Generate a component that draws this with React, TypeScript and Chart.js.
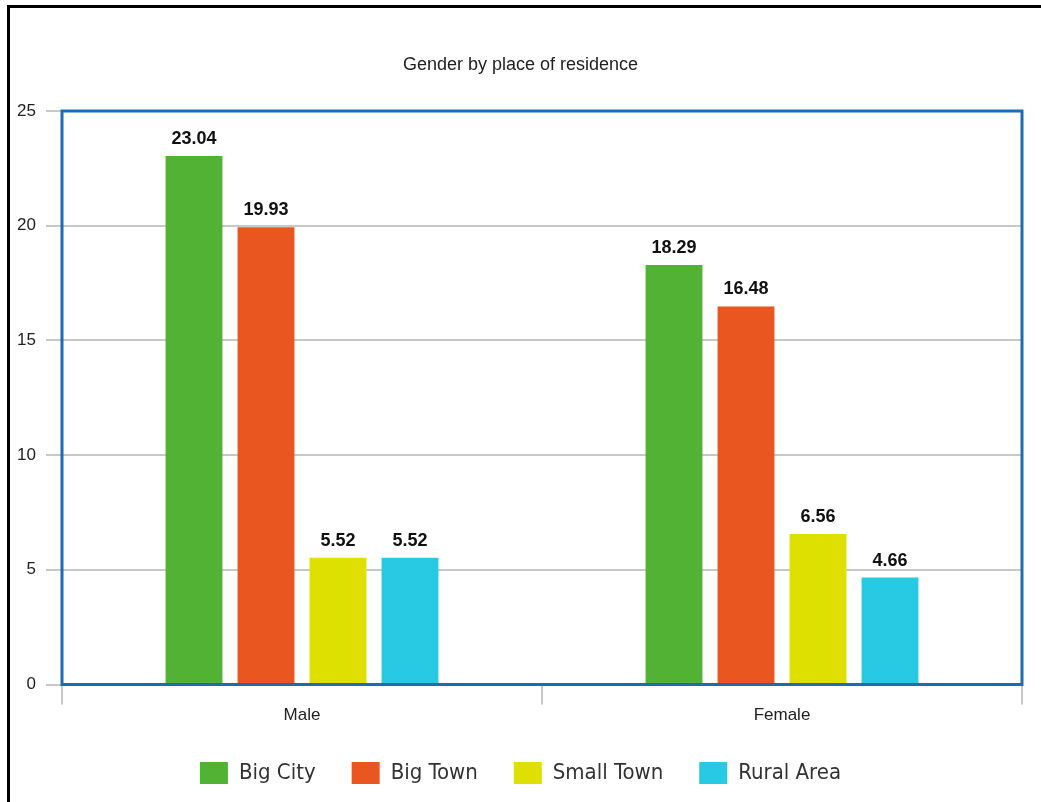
import React, { useEffect, useRef } from "react";
import { Chart, registerables } from "chart.js";

Chart.register(...registerables);

const title = "Gender by place of residence";
const categories = ["Male", "Female"];
const seriesNames = ["Big City", "Big Town", "Small Town", "Rural Area"];
const bigCity = [23.04, 18.29];
const bigTown = [19.93, 16.48];
const smallTown = [5.52, 6.56];
const ruralArea = [5.52, 4.66];
const seriesColors = ["#52b234", "#e9561f", "#dde000", "#27c9e3"];
const yTicks = [0, 5, 10, 15, 20, 25];

const SANS = '"Liberation Sans", Arial, sans-serif';
const COND = '"DejaVu Sans Condensed", "DejaVu Sans", sans-serif';

const framePlugin = {
  id: "frame",
  afterDatasetsDraw(chart: any) {
    const { ctx, chartArea } = chart;
    ctx.save();
    ctx.strokeStyle = "#1b6db3";
    ctx.lineWidth = 3;
    ctx.strokeRect(chartArea.left, chartArea.top, chartArea.right - chartArea.left, chartArea.bottom - chartArea.top);
    ctx.restore();
  },
};

const labelPlugin = {
  id: "valueLabels",
  afterDatasetsDraw(chart: any) {
    const { ctx } = chart;
    ctx.save();
    ctx.font = 'bold 18px "Liberation Sans", Arial, sans-serif';
    ctx.fillStyle = "#111111";
    ctx.textAlign = "center";
    ctx.textBaseline = "alphabetic";
    chart.data.datasets.forEach((ds: any, i: number) => {
      const meta = chart.getDatasetMeta(i);
      meta.data.forEach((bar: any, j: number) => {
        ctx.fillText(Number(ds.data[j]).toFixed(2), bar.x, bar.y - 12);
      });
    });
    ctx.restore();
  },
};

const outerFramePlugin = {
  id: "outerFrame",
  afterDraw(chart: any) {
    const { ctx, width, height } = chart;
    ctx.save();
    ctx.fillStyle = "#000000";
    ctx.fillRect(7, 5, width - 7, 3);
    ctx.fillRect(7, 5, 3, height - 5);
    ctx.restore();
  },
};

export default function App() {
  const ref = useRef<HTMLCanvasElement | null>(null);
  useEffect(() => {
    if (!ref.current) return;
    const values = [bigCity, bigTown, smallTown, ruralArea];
    const chart = new Chart(ref.current, {
      type: "bar",
      data: {
        labels: categories,
        datasets: seriesNames.map((name, i) => ({
          label: name,
          data: values[i],
          backgroundColor: seriesColors[i],
          borderWidth: 0,
          categoryPercentage: 0.6,
          barPercentage: 0.79,
        })),
      },
      options: {
        responsive: false,
        animation: false,
        devicePixelRatio: 1,
        layout: { padding: { top: 0, left: 0, right: 0, bottom: 8 } },
        plugins: {
          title: {
            display: true,
            text: title,
            color: "#222222",
            font: { family: SANS, size: 18, weight: "normal" },
            padding: { top: 54, bottom: 35.4 },
          },
          legend: {
            display: true,
            position: "bottom",
            labels: {
              boxWidth: 28,
              boxHeight: 22,
              padding: 36,
              color: "#333333",
              font: { family: COND, size: 22 },
            },
          },
          tooltip: { enabled: false },
        },
        scales: {
          x: {
            grid: {
              display: true,
              drawOnChartArea: false,
              drawTicks: true,
              tickLength: 20,
              color: "#c8c8c8",
              lineWidth: 2,
            },
            border: { display: false },
            ticks: {
              color: "#222222",
              padding: 1,
              font: { family: SANS, size: 17 },
            },
            afterFit(scale: any) {
              scale.height = 41.5;
            },
          },
          y: {
            min: 0,
            max: 25,
            afterBuildTicks(scale: any) {
              scale.ticks = yTicks.map((v) => ({ value: v }));
            },
            grid: {
              color: "#c8c8c8",
              lineWidth: 2,
              tickLength: 16,
            },
            border: { display: false },
            ticks: {
              color: "#222222",
              padding: 10,
              font: { family: SANS, size: 17 },
            },
            afterFit(scale: any) {
              scale.width = 62;
            },
          },
          y2: {
            position: "right",
            display: true,
            grid: { display: false },
            border: { display: false },
            ticks: { display: false },
            afterFit(scale: any) {
              scale.width = 19;
            },
          },
        },
      },
      plugins: [framePlugin, labelPlugin, outerFramePlugin],
    } as any);
    return () => chart.destroy();
  }, []);
  return (
    <div style={{ position: "absolute", left: 0, top: 0, width: 1041, height: 802, background: "#ffffff" }}>
      <canvas ref={ref} width={1041} height={802} style={{ display: "block" }} />
    </div>
  );
}
